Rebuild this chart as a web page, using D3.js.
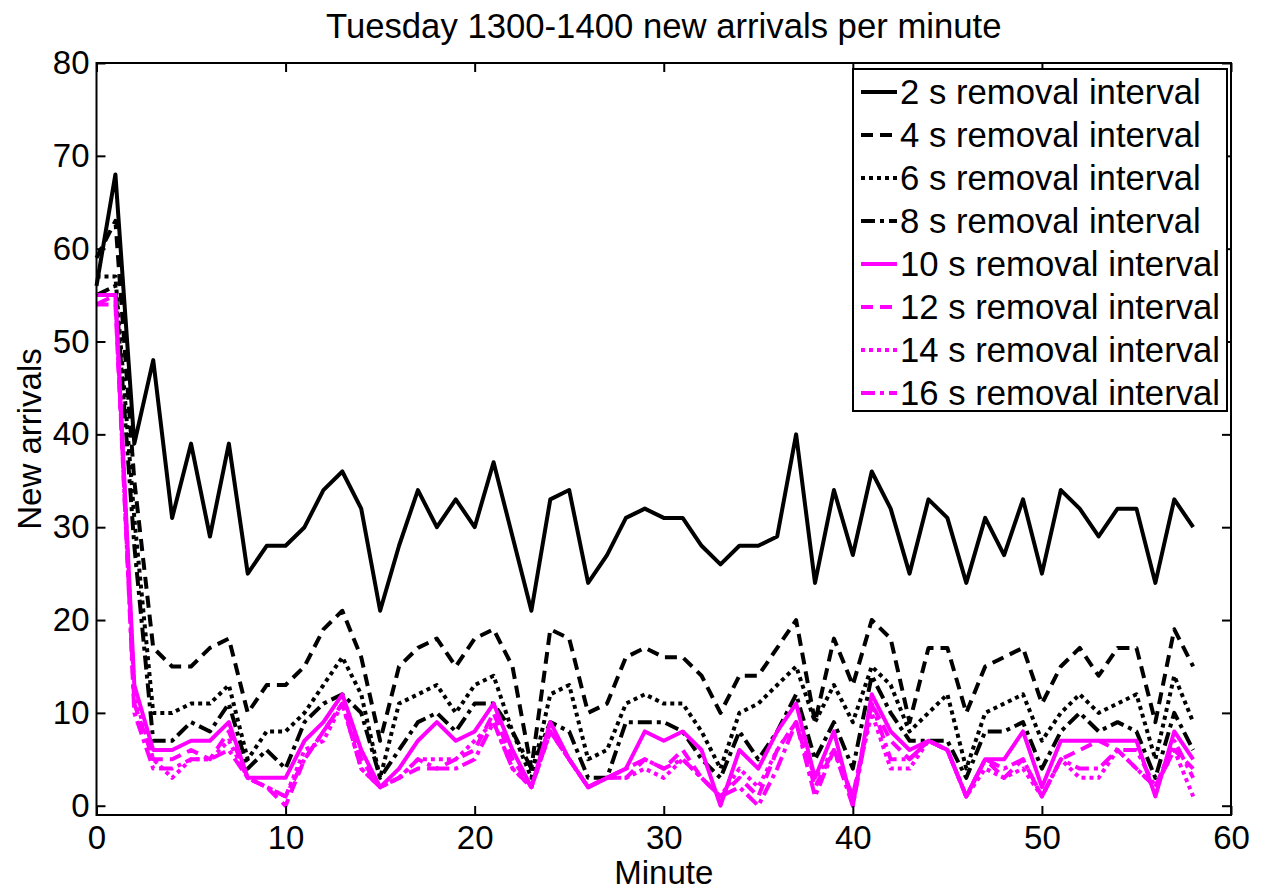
<!DOCTYPE html>
<html><head><meta charset="utf-8">
<script src="https://cdn.jsdelivr.net/npm/d3@7"></script>
<style>
body{margin:0;background:#fff}
text{font-family:"Liberation Sans",Arial,Helvetica,sans-serif;fill:#000}
</style>
</head><body>
<svg id="chart" width="1263" height="892"></svg>
<script>
// ---------- data ----------
const minutes = [0,1,2,3,4,5,6,7,8,9,10,11,12,13,14,15,16,17,18,19,20,21,22,23,24,25,26,27,28,29,
  30,31,32,33,34,35,36,37,38,39,40,41,42,43,44,45,46,47,48,49,50,51,52,53,54,55,56,57,58];
const xTicks = [0,10,20,30,40,50,60];
const yTicks = [0,10,20,30,40,50,60,70,80];
const seriesNames = ["2 s removal interval","4 s removal interval","6 s removal interval","8 s removal interval",
  "10 s removal interval","12 s removal interval","14 s removal interval","16 s removal interval"];
const s2  = [56,68,39,48,31,39,29,39,25,28,28,30,34,36,32,21,28,34,30,33,30,37,29,21,33,34,24,27,31,32,
  31,31,28,26,28,28,29,40,24,34,27,36,32,25,33,31,24,31,27,33,25,34,32,29,32,32,24,33,30];
const s4  = [59,63,35,17,15,15,17,18,10,13,13,15,19,21,16,7,15,17,18,15,18,19,15,4,19,18,10,11,16,17,
  16,16,14,10,14,14,17,20,9,18,13,20,18,9,17,17,10,15,16,17,11,15,17,14,17,17,9,19,15];
const s6  = [57,57,31,10,10,11,11,13,5,8,8,10,13,16,12,3,11,12,13,10,13,14,8,3,12,13,5,6,11,12,
  11,11,8,4,10,11,13,15,9,13,9,15,13,8,10,12,4,10,11,12,7,10,12,10,11,12,5,14,9];
const s8  = [55,56,28,7,7,9,8,11,4,6,4,9,11,12,10,3,6,9,10,8,11,11,8,4,9,8,3,3,9,9,
  9,8,5,3,8,5,8,12,5,9,4,14,10,7,7,7,3,8,8,9,4,8,10,8,9,8,3,10,6];
const s10 = [55,55,13,6,6,7,7,9,3,3,3,7,9,12,6,2,4,7,9,7,8,11,6,2,9,5,2,3,4,8,
  7,8,6,0,6,4,8,11,3,8,0,12,8,6,7,6,1,5,5,8,2,7,7,7,7,7,1,8,5];
const s12 = [54,54,11,5,5,6,5,8,3,2,0,5,8,11,5,2,3,4,4,5,6,10,5,2,8,5,2,3,3,5,
  4,6,3,1,3,1,6,9,2,6,1,11,7,5,7,6,1,5,3,5,1,5,6,7,6,4,2,6,4];
const s14 = [55,55,12,5,3,5,5,7,3,2,1,6,7,11,4,2,3,5,5,5,7,9,4,2,8,5,2,3,3,4,
  3,5,3,1,4,2,6,9,3,6,1,10,4,4,7,6,1,4,3,4,1,5,3,3,6,4,2,6,1];
const s16 = [54,55,10,4,4,5,5,6,3,2,1,5,8,11,4,2,3,5,4,4,5,9,4,2,8,5,2,3,4,5,
  4,5,3,1,2,0,4,9,1,6,0,11,5,5,7,6,1,5,4,5,1,5,4,4,6,6,2,7,3];
const seriesValues = [s2,s4,s6,s8,s10,s12,s14,s16];
const seriesColors = ["#000","#000","#000","#000","#ff00ff","#ff00ff","#ff00ff","#ff00ff"];
const seriesDash = ["none","12,7","4,4","14,5,4,5","none","12,7","4,4","14,5,4,5"];

// ---------- layout ----------
const svg = d3.select("#chart");
const L = 96.5, R = 1231, T = 63, B = 815;
const x = d3.scaleLinear().domain([0,60]).range([L,R]);
const y = d3.scaleLinear().domain([-1,80]).range([B,T]);
const FS = 33, FL = 34.7;

// series
const line = d3.line().x((d,i)=>x(minutes[i])).y(d=>y(d));
const plot = svg.append("g");
seriesValues.forEach((vals,k)=>{
  plot.append("path").datum(vals)
    .attr("d", line)
    .attr("fill","none")
    .attr("stroke", seriesColors[k])
    .attr("stroke-width", 4)
    .attr("stroke-linejoin","round")
    .attr("stroke-dasharray", seriesDash[k]);
});

// axes
const gx = svg.append("g").attr("transform",`translate(0,${B})`)
  .call(d3.axisBottom(x).tickValues(xTicks).tickSizeInner(-9).tickSizeOuter(0).tickPadding(11));
const gxt = svg.append("g").attr("transform",`translate(0,${T})`)
  .call(d3.axisTop(x).tickValues(xTicks).tickSizeInner(-9).tickSizeOuter(0).tickFormat(""));
const gy = svg.append("g").attr("transform",`translate(${L},0)`)
  .call(d3.axisLeft(y).tickValues(yTicks).tickSizeInner(-9).tickSizeOuter(0).tickPadding(7));
const gyr = svg.append("g").attr("transform",`translate(${R},0)`)
  .call(d3.axisRight(y).tickValues(yTicks).tickSizeInner(-9).tickSizeOuter(0).tickFormat(""));
[gx,gxt,gy,gyr].forEach(g=>{
  g.select(".domain").remove();
  g.selectAll(".tick line").attr("stroke","#000").attr("stroke-width",2);
  g.selectAll(".tick text").attr("font-size",FS).attr("font-family",'"Liberation Sans",Arial,sans-serif').attr("fill","#000");
});
svg.append("rect").attr("x",L).attr("y",T).attr("width",R-L).attr("height",B-T)
  .attr("fill","none").attr("stroke","#000").attr("stroke-width",2);

// labels
svg.append("text").attr("x",(L+R)/2).attr("y",38).attr("text-anchor","middle")
  .attr("font-size",FL).text("Tuesday 1300-1400 new arrivals per minute");
svg.append("text").attr("x",(L+R)/2).attr("y",884).attr("text-anchor","middle")
  .attr("font-size",FS).text("Minute");
svg.append("text").attr("transform",`translate(41,${(T+B)/2}) rotate(-90)`).attr("text-anchor","middle")
  .attr("font-size",FS).text("New arrivals");

// legend
const lg = svg.append("g");
lg.append("rect").attr("x",853).attr("y",69).attr("width",374).attr("height",342)
  .attr("fill","#fff").attr("stroke","#000").attr("stroke-width",2);
seriesNames.forEach((name,k)=>{
  const cy = 92 + k*43;
  lg.append("line").attr("x1",861).attr("x2",897).attr("y1",cy).attr("y2",cy)
    .attr("stroke",seriesColors[k]).attr("stroke-width",4).attr("stroke-dasharray",seriesDash[k]);
  lg.append("text").attr("x",900).attr("y",cy+12).attr("font-size",FL).text(name);
});
</script>
</body></html>
